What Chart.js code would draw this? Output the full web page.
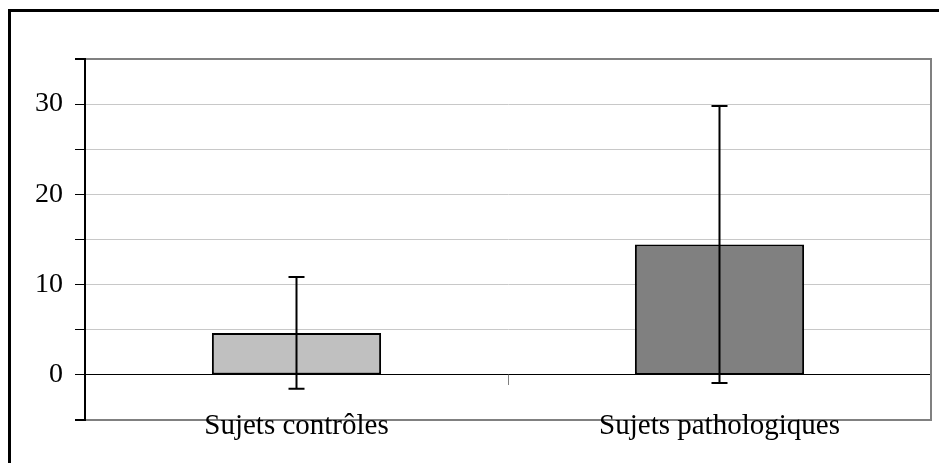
<!DOCTYPE html>
<html>
<head>
<meta charset="utf-8">
<script src="https://cdn.jsdelivr.net/npm/chart.js@4.4.0/dist/chart.umd.min.js"></script>
<style>
  html, body { margin: 0; padding: 0; background: #fff; overflow: hidden; }
  #frame { position: absolute; left: 8px; top: 9px; width: 1000px; height: 600px; border: 3px solid #000; }
  #chart { position: absolute; left: 0; top: 0; }
</style>
</head>
<body>
<div id="frame"></div>
<canvas id="chart" width="939" height="463"></canvas>
<script>
const categories = ["Sujets contrôles", "Sujets pathologiques"];
const means = [4.65, 14.45];
const deviations = [6.2, 15.35];
const barColors = ["#c0c0c0", "#808080"];
const yTickLabels = [0, 10, 20, 30];

const serif = "'Liberation Serif', 'Times New Roman', serif";

// mean +/- deviation whiskers, placed with the y scale
const errorBars = {
  id: "errorBars",
  afterDatasetsDraw(chart) {
    const ctx = chart.ctx;
    const y = chart.scales.y;
    chart.getDatasetMeta(0).data.forEach((bar, i) => {
      const top = y.getPixelForValue(means[i] + deviations[i]);
      const bottom = y.getPixelForValue(means[i] - deviations[i]);
      ctx.save();
      ctx.strokeStyle = "#000";
      ctx.lineWidth = 2;
      ctx.beginPath();
      ctx.moveTo(bar.x, top);
      ctx.lineTo(bar.x, bottom);
      ctx.moveTo(bar.x - 8, top);
      ctx.lineTo(bar.x + 8, top);
      ctx.moveTo(bar.x - 8, bottom);
      ctx.lineTo(bar.x + 8, bottom);
      ctx.stroke();
      ctx.restore();
    });
  },
};

const isEdge = (v) => v === -5 || v === 35;

new Chart(document.getElementById("chart"), {
  type: "bar",
  data: {
    labels: categories,
    datasets: [
      {
        data: means,
        backgroundColor: barColors,
        borderColor: "#000",
        borderWidth: 2,
        borderSkipped: false,
        barPercentage: 0.4,
        categoryPercentage: 1,
      },
    ],
  },
  options: {
    responsive: false,
    animation: false,
    layout: { padding: { left: 0, top: 59, right: 8, bottom: 43 } },
    plugins: {
      legend: { display: false },
      tooltip: { enabled: false },
    },
    scales: {
      x: {
        position: { y: 0 },
        offset: true,
        grid: {
          offset: true,
          drawOnChartArea: false,
          drawTicks: true,
          tickLength: 10,
          color: "#808080",
        },
        border: { color: "#000", width: 1 },
        ticks: { color: "#000", font: { family: serif, size: 29 }, padding: 24, maxRotation: 0 },
      },
      y: {
        min: -5,
        max: 35,
        afterFit: (s) => { s.width = 85; },
        ticks: {
          stepSize: 5,
          color: "#000",
          font: { family: serif, size: 28 },
          padding: 12,
          callback: (v) => (yTickLabels.includes(v) ? String(v) : ""),
        },
        grid: {
          color: (c) => (isEdge(c.tick.value) ? "#808080" : "#c8c8c8"),
          lineWidth: (c) => (isEdge(c.tick.value) ? 2 : 1),
          tickColor: "#000",
          tickLength: 10,
        },
        border: { color: "#000", width: 2 },
      },
      y2: {
        position: "right",
        min: -5,
        max: 35,
        afterFit: (s) => { s.width = 0; },
        ticks: { display: false },
        grid: { drawOnChartArea: false, drawTicks: false },
        border: { color: "#808080", width: 2 },
      },
    },
  },
  plugins: [errorBars],
});
</script>
</body>
</html>
